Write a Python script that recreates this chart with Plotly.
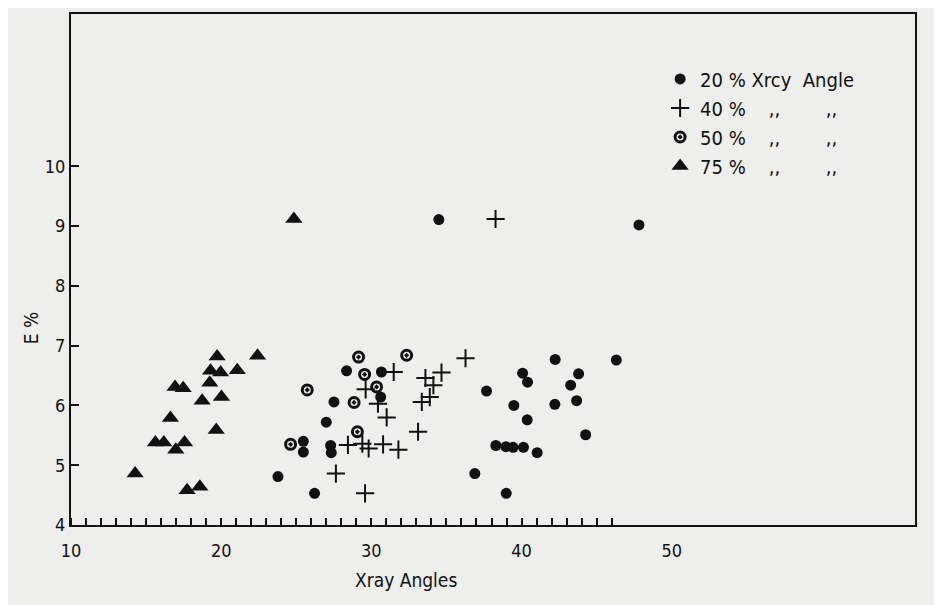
import plotly.graph_objects as go

# 20 % series (filled dots)
x20 = [42.24, 46.31, 40.07, 43.8, 40.4, 43.27, 37.67, 43.67, 42.22, 39.49, 40.38, 44.27,
       38.29, 38.96, 39.44, 40.13, 41.04, 36.89, 38.98,
       28.35, 30.67, 27.51, 30.62, 27.0, 25.47, 25.47, 27.29, 27.33, 23.78, 26.22,
       34.49, 47.82]
y20 = [6.77, 6.76, 6.54, 6.53, 6.39, 6.34, 6.24, 6.08, 6.02, 6.0, 5.76, 5.51,
       5.33, 5.31, 5.3, 5.3, 5.21, 4.86, 4.53,
       6.58, 6.56, 6.06, 6.14, 5.72, 5.4, 5.22, 5.33, 5.21, 4.81, 4.53,
       9.11, 9.02]

# 40 % series (plus)
x40 = [31.49, 33.6, 34.67, 34.13, 33.89, 33.36, 29.62, 30.44, 31.02, 33.11, 28.44, 29.4,
       29.82, 30.78, 31.8, 27.64, 29.58, 36.27, 38.27]
y40 = [6.56, 6.46, 6.55, 6.34, 6.14, 6.06, 6.27, 6.03, 5.8, 5.56, 5.34, 5.36,
       5.28, 5.35, 5.26, 4.86, 4.53, 6.79, 9.12]

# 50 % series (dotted circle)
x50 = [29.15, 29.55, 32.35, 25.73, 30.35, 28.85, 29.07, 24.62]
y50 = [6.81, 6.52, 6.84, 6.26, 6.31, 6.05, 5.56, 5.35]

# 75 % series (triangles)
x75 = [14.27, 15.62, 16.18, 16.98, 17.56, 17.73, 18.58, 16.62, 16.93, 17.47, 18.73, 19.24,
       19.29, 19.96, 19.73, 20.02, 19.67, 21.07, 22.42, 24.84]
y75 = [4.86, 5.38, 5.38, 5.26, 5.38, 4.58, 4.64, 5.79, 6.31, 6.29, 6.08, 6.38,
       6.58, 6.55, 6.82, 6.14, 5.59, 6.59, 6.83, 9.12]

names = ["20 % Xrcy  Angle", "40 %    ,,        ,,", "50 %    ,,        ,,", "75 %    ,,        ,,"]

x_labels = [10, 20, 30, 40, 50]
y_labels = [4, 5, 6, 7, 8, 9, 10]
x_minor = list(range(10, 47))

FONT = "DejaVu Sans Condensed, DejaVu Sans, sans-serif"
INK = "#111111"
BG = "#eeeeec"

fig = go.Figure()
fig.add_trace(go.Scatter(x=x20, y=y20, mode="markers", name=names[0],
                         marker=dict(symbol="circle", size=11, color=INK)))
fig.add_trace(go.Scatter(x=x40, y=y40, mode="markers", name=names[1],
                         marker=dict(symbol="cross-thin", size=13, color=INK,
                                     line=dict(width=2, color=INK))))
fig.add_trace(go.Scatter(x=x50, y=y50, mode="markers", name=names[2],
                         marker=dict(symbol="circle-open-dot", size=10, color=INK,
                                     line=dict(width=3, color=INK))))
fig.add_trace(go.Scatter(x=x75, y=y75, mode="markers", name=names[3],
                         marker=dict(symbol="triangle-up", size=15, color=INK)))

# page body has an 8px margin; size/margins compensate so the plot box lands at
# x 71..915, y 12..525 in the window
fig.update_layout(
    width=934, height=597,
    margin=dict(l=63, r=27, t=4, b=80),
    paper_bgcolor=BG, plot_bgcolor=BG,
    font=dict(family=FONT, size=18, color=INK),
    showlegend=True,
    legend=dict(x=0.698, y=0.911, xanchor="left", yanchor="top",
                bgcolor="rgba(0,0,0,0)", font=dict(size=20, family=FONT),
                itemsizing="trace", tracegroupgap=2, itemwidth=30),
    xaxis=dict(range=[10, 66.2], showgrid=False, zeroline=False,
               showline=True, linecolor=INK, linewidth=2, mirror=True,
               tickmode="array", tickvals=x_labels, ticktext=[str(v) for v in x_labels],
               ticks="", tickfont=dict(size=18, family=FONT), ticklabelstandoff=8,
               minor=dict(tickmode="array", tickvals=x_minor, ticks="inside",
                          ticklen=7, tickwidth=1.5, tickcolor=INK, showgrid=False)),
    yaxis=dict(range=[4, 12.55], showgrid=False, zeroline=False,
               showline=True, linecolor=INK, linewidth=2, mirror=True,
               tickmode="array", tickvals=y_labels, ticktext=[str(v) for v in y_labels],
               ticks="inside", ticklen=8, tickwidth=1.5, tickcolor=INK,
               tickfont=dict(size=18, family=FONT)),
)

fig.add_annotation(text="Xray Angles", xref="x", yref="paper", x=32.3, y=-0.107,
                   showarrow=False, xanchor="center", yanchor="middle",
                   font=dict(size=19, family=FONT))
fig.add_annotation(text="E %", xref="paper", yref="y", x=-0.048, y=7.3,
                   showarrow=False, textangle=-90, xanchor="center", yanchor="middle",
                   font=dict(size=19, family=FONT))

fig.write_html("out.html")
